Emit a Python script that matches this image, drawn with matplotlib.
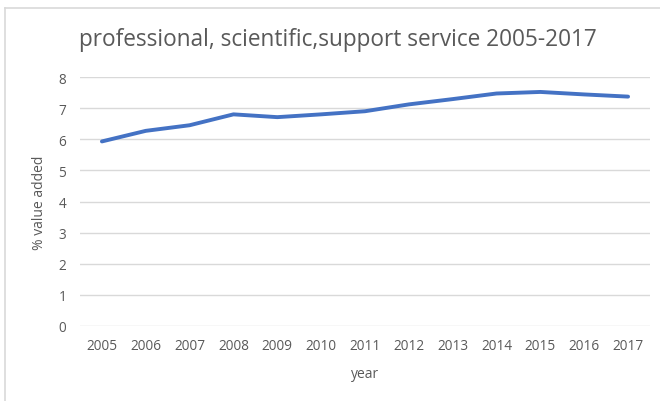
import matplotlib
matplotlib.use("Agg")
import matplotlib.pyplot as plt
from matplotlib.lines import Line2D

years = ["2005", "2006", "2007", "2008", "2009", "2010", "2011",
         "2012", "2013", "2014", "2015", "2016", "2017"]
values = [5.93, 6.27, 6.45, 6.80, 6.71, 6.80, 6.90,
          7.12, 7.29, 7.47, 7.52, 7.44, 7.37]
yticks = [0, 1, 2, 3, 4, 5, 6, 7, 8]

plt.rcParams['font.family'] = ['Open Sans', 'DejaVu Sans']
txt = '#595959'

fig = plt.figure(figsize=(6.6, 4.02), dpi=100)
W, H = 660, 402
ax = fig.add_axes([80 / W, 1 - 327 / H, (650 - 80) / W, (327 - 78) / H])

x = list(range(len(years)))
ax.plot(x, values, color='#4472C4', lw=2.8, solid_capstyle='round',
        solid_joinstyle='round', zorder=3)
ax.set_xlim(-0.5, len(years) - 0.5)
ax.set_ylim(0, 8)
ax.set_yticks(yticks)
ax.set_yticklabels([str(v) for v in yticks])
ax.set_xticks(x)
ax.set_xticklabels(years)
ax.grid(axis='y', color='#D9D9D9', lw=1)
ax.set_axisbelow(True)
for s in ax.spines.values():
    s.set_visible(False)
ax.tick_params(axis='both', length=0, labelsize=9.8, colors=txt)
ax.tick_params(axis='x', pad=9)
ax.tick_params(axis='y', pad=10)
ax.set_xlabel('year', fontsize=10, color=txt, labelpad=9)
ax.set_ylabel('% value added', fontsize=10, color=txt, labelpad=8)

fig.text(338 / W, 1 - 40 / H, 'professional, scientific,support service 2005-2017',
         ha='center', va='center', fontsize=16.3, color=txt)

fig.add_artist(Line2D([5 / W, 1], [1 - 9 / H, 1 - 9 / H], color='#D9D9D9', lw=1.2,
                      transform=fig.transFigure))
fig.add_artist(Line2D([5 / W, 5 / W], [0, 1 - 9 / H], color='#D9D9D9', lw=1.2,
                      transform=fig.transFigure))

fig.savefig('out.png', dpi=100)
